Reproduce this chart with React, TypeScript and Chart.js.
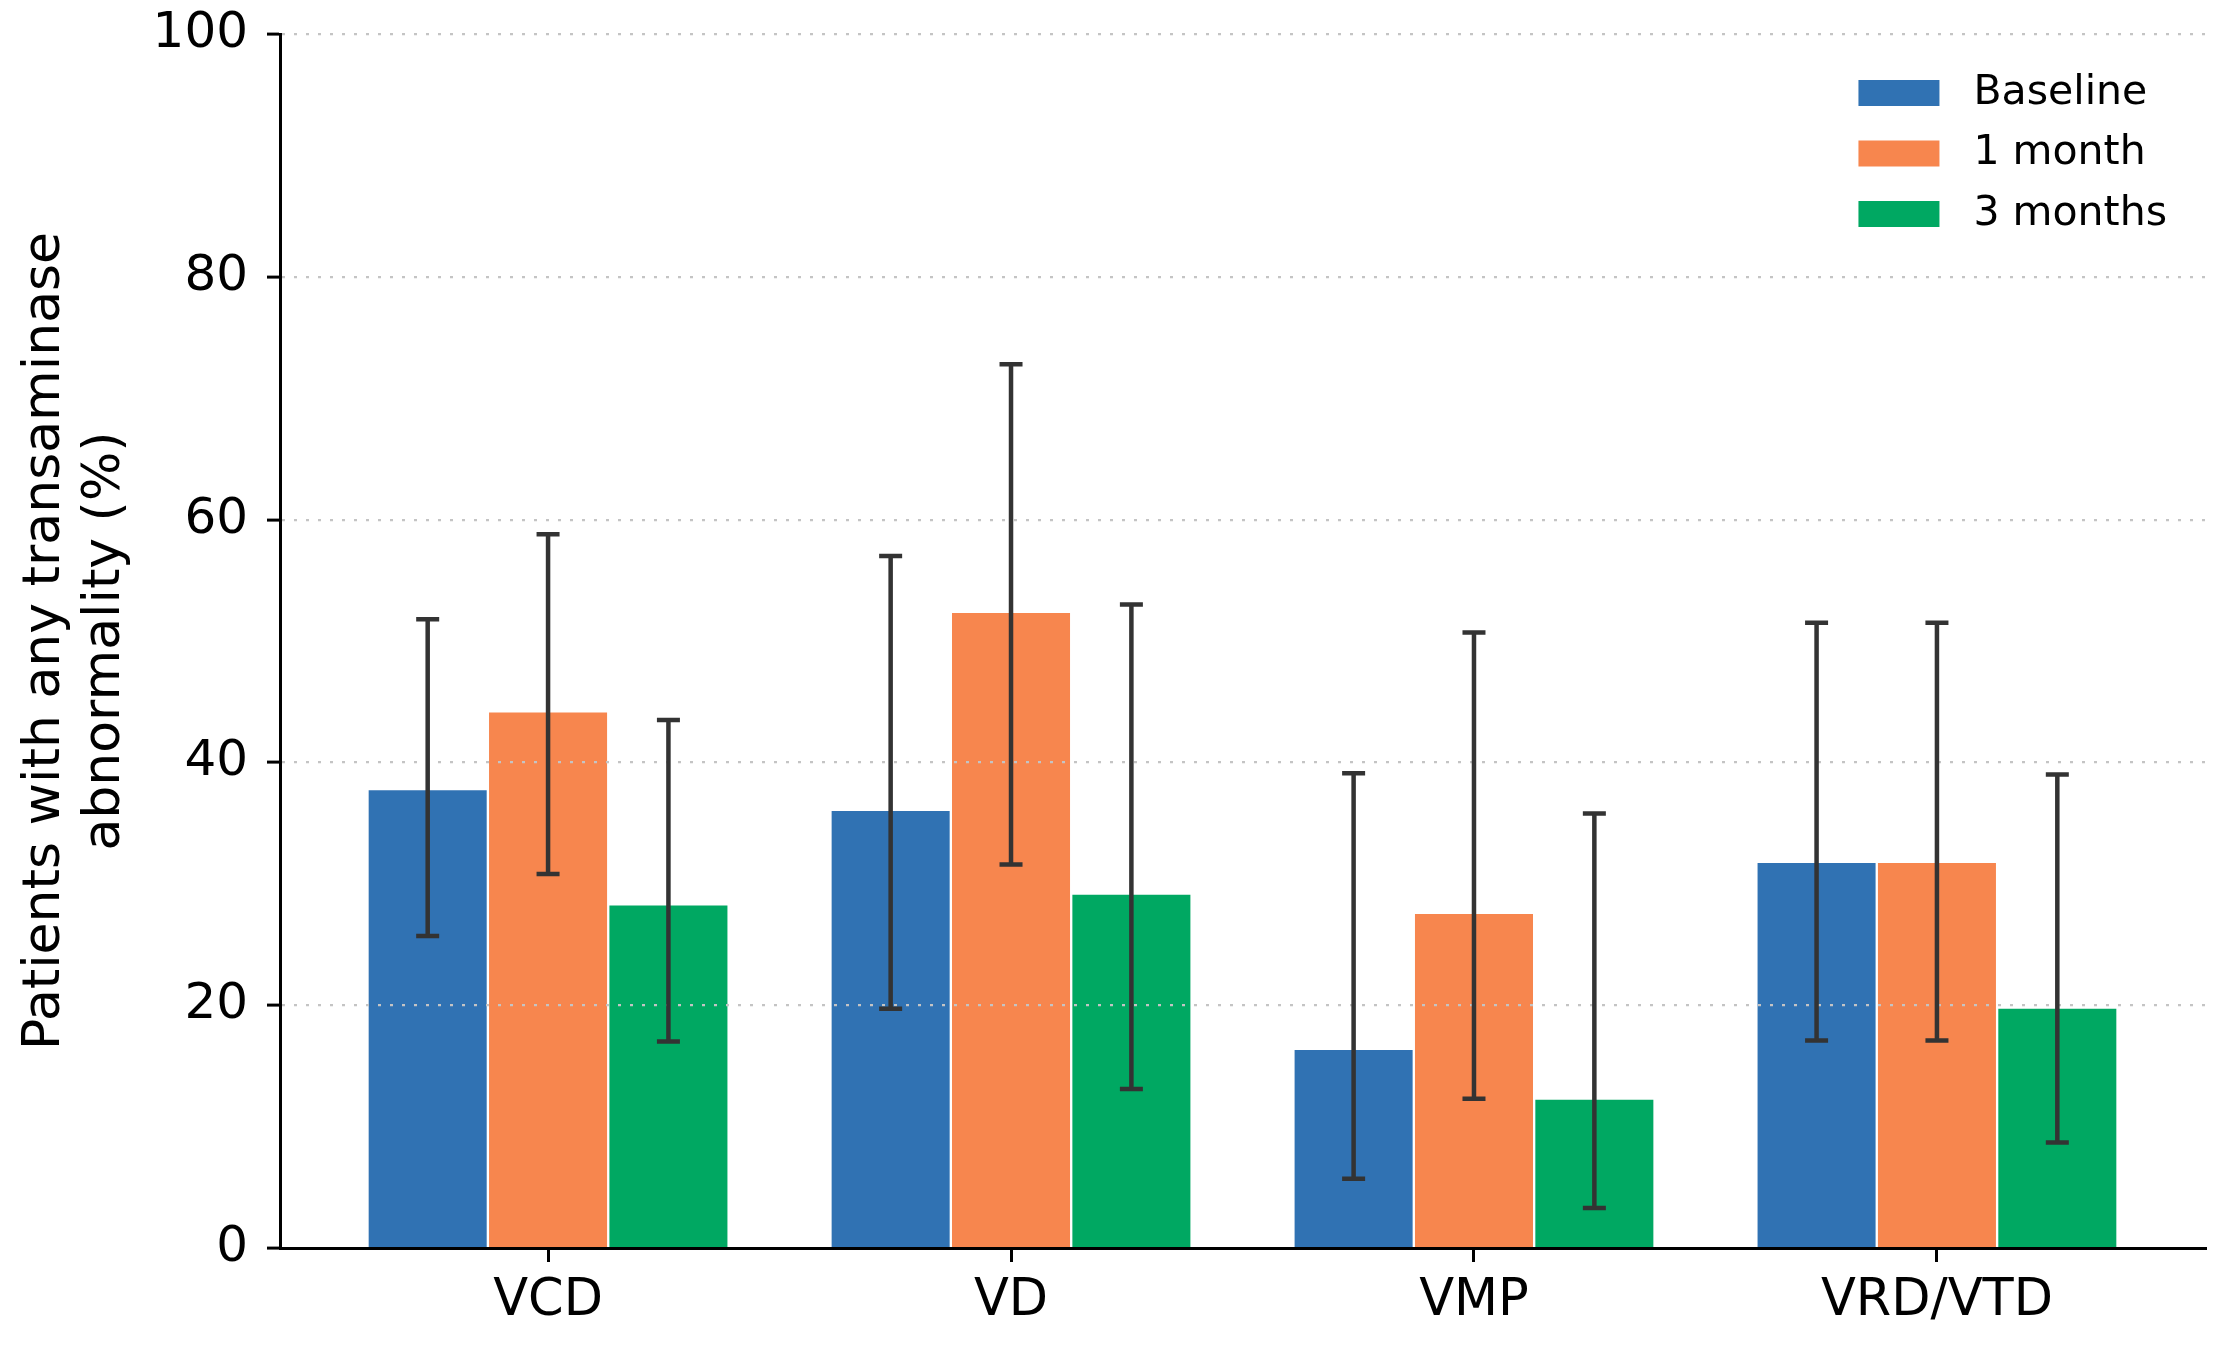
import React, { useEffect, useRef } from 'react';
import { Chart, registerables } from 'chart.js';

Chart.register(...registerables);

// ---- Data ----
const CATEGORIES = ['VCD', 'VD', 'VMP', 'VRD/VTD'];
const SERIES = ['Baseline', '1 month', '3 months'];

const BASELINE = [37.8, 36.1, 16.4, 31.8];
const BASELINE_LOW = [25.7, 19.7, 5.7, 17.1];
const BASELINE_HIGH = [51.8, 57.0, 39.1, 51.5];

const MONTH1 = [44.2, 52.4, 27.6, 31.8];
const MONTH1_LOW = [30.8, 31.6, 12.3, 17.1];
const MONTH1_HIGH = [58.8, 72.8, 50.7, 51.5];

const MONTH3 = [28.3, 29.2, 12.3, 19.8];
const MONTH3_LOW = [17.0, 13.1, 3.3, 8.7];
const MONTH3_HIGH = [43.5, 53.0, 35.8, 39.0];

const Y_TICKS = [0, 20, 40, 60, 80, 100];

// ---- Styles ----
const COLORS = ['#3072b3', '#f7864e', '#00a862'];
const BAR_WIDTH = 0.26; // bar width in category units (grouped like matplotlib)
const X_MARGIN = 0.05; // axis margin fraction
const FONT = 'DejaVu Sans';

export default function App() {
  const ref = useRef<HTMLCanvasElement | null>(null);

  useEffect(() => {
    const canvas = ref.current;
    if (!canvas) return;

    const values = [BASELINE, MONTH1, MONTH3];
    const lows = [BASELINE_LOW, MONTH1_LOW, MONTH3_LOW];
    const highs = [BASELINE_HIGH, MONTH1_HIGH, MONTH3_HIGH];

    const nSeries = SERIES.length;
    const half = (nSeries / 2) * BAR_WIDTH;
    const dataMin = -half;
    const dataMax = CATEGORIES.length - 1 + half;
    const span = dataMax - dataMin;
    const xMin = dataMin - span * X_MARGIN;
    const xMax = dataMax + span * X_MARGIN;

    const datasets = SERIES.map((label, s) => ({
      label,
      data: CATEGORIES.map((_, i) => ({
        x: i + (s - (nSeries - 1) / 2) * BAR_WIDTH,
        y: values[s][i],
      })),
      backgroundColor: COLORS[s],
      borderColor: '#ffffff',
      borderWidth: 1.5,
      borderSkipped: 'start' as const,
      grouped: false,
      categoryPercentage: 1,
      barPercentage: 1,
    }));

    const errorBars = {
      id: 'errorBars',
      afterDraw(chart: any) {
        const { ctx } = chart;
        const y = chart.scales.y;
        ctx.save();
        ctx.strokeStyle = '#333333';
        ctx.lineWidth = 4.5;
        ctx.lineCap = 'butt';
        const cap = 11.5;
        chart.data.datasets.forEach((_: any, s: number) => {
          const meta = chart.getDatasetMeta(s);
          meta.data.forEach((bar: any, i: number) => {
            const x = bar.x;
            const yl = y.getPixelForValue(lows[s][i]);
            const yh = y.getPixelForValue(highs[s][i]);
            ctx.beginPath();
            ctx.moveTo(x, yl);
            ctx.lineTo(x, yh);
            ctx.moveTo(x - cap, yl);
            ctx.lineTo(x + cap, yl);
            ctx.moveTo(x - cap, yh);
            ctx.lineTo(x + cap, yh);
            ctx.stroke();
          });
        });
        ctx.restore();
      },
    };

    const innerLegend = {
      id: 'innerLegend',
      afterDraw(chart: any) {
        const { ctx, chartArea } = chart;
        ctx.save();
        ctx.font = `41px "${FONT}"`;
        ctx.textBaseline = 'middle';
        ctx.textAlign = 'left';
        const labels = chart.data.datasets.map((d: any) => d.label as string);
        const maxW = Math.max(...labels.map((l: string) => ctx.measureText(l).width));
        const textX = chartArea.right - 38 - maxW;
        const boxW = 81;
        const boxH = 26;
        const boxX = textX - 34 - boxW;
        chart.data.datasets.forEach((d: any, k: number) => {
          const cy = chartArea.top + 59 + k * 60.5;
          ctx.fillStyle = d.backgroundColor;
          ctx.fillRect(boxX, cy - boxH / 2, boxW, boxH);
          ctx.fillStyle = '#000000';
          ctx.fillText(d.label, textX, cy);
        });
        ctx.restore();
      },
    };

    const chart = new Chart(canvas, {
      type: 'bar',
      data: { datasets: datasets as any },
      options: {
        animation: false,
        responsive: true,
        maintainAspectRatio: false,
        layout: { padding: { left: 0, right: 21, top: 34, bottom: 0 } },
        plugins: {
          legend: { display: false },
          tooltip: { enabled: false },
        },
        scales: {
          x: {
            type: 'linear',
            offset: false,
            min: xMin,
            max: xMax,
            afterBuildTicks: (scale: any) => {
              scale.ticks = CATEGORIES.map((_, i) => ({ value: i }));
            },
            afterFit: (scale: any) => {
              scale.height = 99;
              scale.paddingLeft = 0;
              scale.paddingRight = 0;
            },
            ticks: {
              callback: (_v: any, index: number) => CATEGORIES[index],
              font: { family: FONT, size: 51 },
              color: '#000000',
              padding: 9,
              maxRotation: 0,
              autoSkip: false,
              z: 1,
            },
            grid: {
              display: true,
              offset: false,
              drawOnChartArea: false,
              drawTicks: true,
              tickLength: 14,
              color: '#000000',
              lineWidth: 3,
              tickColor: '#000000',
              tickWidth: 3,
              z: 1,
            },
            border: { display: true, color: '#000000', width: 3, z: 2 },
          },
          y: {
            type: 'linear',
            min: Y_TICKS[0],
            max: Y_TICKS[Y_TICKS.length - 1],
            afterBuildTicks: (scale: any) => {
              scale.ticks = Y_TICKS.map((v) => ({ value: v }));
            },
            afterFit: (scale: any) => {
              scale.width = 280;
              scale.paddingTop = 0;
              scale.paddingBottom = 0;
            },
            ticks: {
              font: { family: FONT, size: 50 },
              color: '#000000',
              padding: 19,
              z: 1,
            },
            grid: {
              color: (c: any) => (c.tick && c.tick.value === 0 ? 'rgba(0,0,0,0)' : '#c4c4c4'),
              lineWidth: 2.2,
              drawTicks: true,
              tickLength: 13,
              tickColor: '#000000',
              tickWidth: 3,
              tickBorderDash: [],
              z: 1,
            },
            border: { display: true, color: '#000000', width: 3, dash: [3, 9], z: 2 },
            title: {
              display: true,
              text: ['Patients with any transaminase', 'abnormality (%)'],
              font: { family: FONT, size: 52, lineHeight: 1.15 },
              color: '#000000',
              padding: { top: 16, bottom: 0 },
            },
          },
        },
      } as any,
      plugins: [errorBars, innerLegend],
    });

    return () => {
      chart.destroy();
    };
  }, []);

  return (
    <div style={{ position: 'absolute', left: 0, top: 0, width: 2226, height: 1347, background: '#ffffff' }}>
      <canvas ref={ref} />
    </div>
  );
}
